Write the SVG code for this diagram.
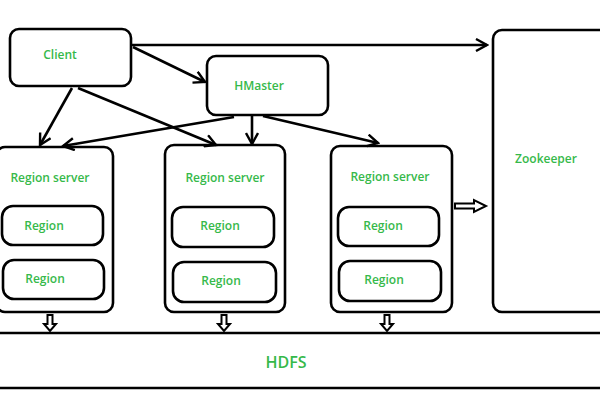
<svg xmlns="http://www.w3.org/2000/svg" width="600" height="400" viewBox="0 0 600 400">
<style>
.box{fill:#fff;stroke:#000;stroke-width:2.6}
.t{font-family:"Open Sans","Liberation Sans",sans-serif;font-weight:600;font-size:12px;fill:#36b94a;text-anchor:middle}
.c{stroke:#000;stroke-width:2.6;fill:none;marker-end:url(#ah)}
.h{fill:#fff;stroke:#000;stroke-width:2}
</style>
<defs>
<marker id="ah" viewBox="0 0 14 14" refX="12" refY="7" markerWidth="14" markerHeight="14" markerUnits="userSpaceOnUse" orient="auto">
<path d="M1,1 L12,7 L1,13" fill="none" stroke="#000" stroke-width="2.4"/>
</marker>
</defs>
<rect x="-2" y="-2" width="604" height="404" fill="#fff"/>
<g id="hdfs">
<line x1="0" y1="333" x2="600" y2="333" stroke="#000" stroke-width="2.6"/>
<line x1="0" y1="388" x2="600" y2="388" stroke="#000" stroke-width="2.6"/>
<text class="t" x="286" y="368" style="font-size:16px">HDFS</text>
</g>
<g id="client">
<rect class="box" x="10" y="29" width="121" height="57" rx="9"/>
<text class="t" x="60" y="59">Client</text>
</g>
<g id="hmaster">
<rect class="box" x="207" y="56" width="121" height="59" rx="9"/>
<text class="t" x="259" y="90">HMaster</text>
</g>
<g id="zookeeper">
<rect class="box" x="493" y="30" width="120" height="282" rx="9"/>
<text class="t" x="546" y="163">Zookeeper</text>
</g>
<g id="rs1">
<rect class="box" x="-4" y="147" width="117" height="165" rx="9"/>
<text class="t" x="50" y="182">Region server</text>
<rect class="box" x="2" y="206" width="101" height="39" rx="11"/>
<text class="t" x="44" y="230">Region</text>
<rect class="box" x="3" y="260" width="101" height="39" rx="11"/>
<text class="t" x="45" y="283">Region</text>
</g>
<g id="rs2">
<rect class="box" x="165" y="145" width="120" height="167" rx="9"/>
<text class="t" x="225" y="182">Region server</text>
<rect class="box" x="172" y="207" width="102" height="40" rx="11"/>
<text class="t" x="220" y="230">Region</text>
<rect class="box" x="173" y="262" width="103" height="40" rx="11"/>
<text class="t" x="221" y="285">Region</text>
</g>
<g id="rs3">
<rect class="box" x="331" y="146" width="121" height="166" rx="9"/>
<text class="t" x="390" y="181">Region server</text>
<rect class="box" x="338" y="207" width="101" height="39" rx="11"/>
<text class="t" x="383" y="230">Region</text>
<rect class="box" x="339" y="261" width="102" height="40" rx="11"/>
<text class="t" x="384" y="284">Region</text>
</g>
<g id="connectors">
<line class="c" x1="131" y1="45" x2="487" y2="45"/>
<line class="c" x1="133" y1="47" x2="205" y2="82"/>
<line class="c" x1="72" y1="88" x2="40" y2="145"/>
<line class="c" x1="78" y1="88" x2="216" y2="145"/>
<line class="c" x1="234" y1="117" x2="63" y2="146"/>
<line class="c" x1="252" y1="116" x2="252" y2="144"/>
<line class="c" x1="263" y1="116" x2="378" y2="143"/>
<path class="h" d="M47.5,315 h5 v9 h3.5 l-6,7 l-6,-7 h3.5 z"/>
<path class="h" d="M221.5,315 h5 v9 h3.5 l-6,7 l-6,-7 h3.5 z"/>
<path class="h" d="M384.5,315 h5 v9 h3.5 l-6,7 l-6,-7 h3.5 z"/>
<path class="h" d="M455,203.5 v5 h19 v3.5 l12,-6 l-12,-6 v3.5 z"/>
</g>
</svg>
